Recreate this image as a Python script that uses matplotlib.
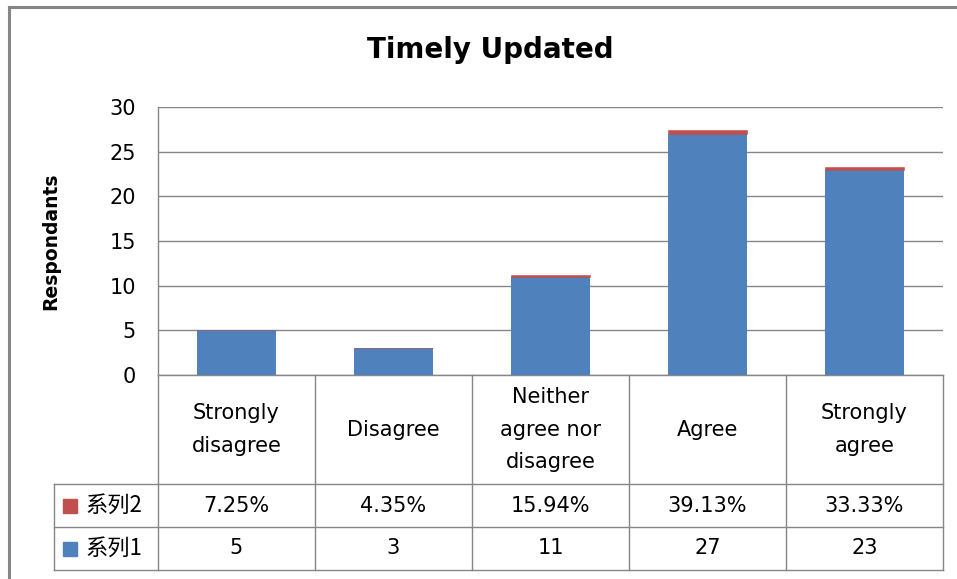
import matplotlib
matplotlib.use("Agg")
import matplotlib.pyplot as plt
from matplotlib.lines import Line2D

categories = ["Strongly\ndisagree", "Disagree", "Neither\nagree nor\ndisagree", "Agree", "Strongly\nagree"]
series1 = [5, 3, 11, 27, 23]                      # respondents
series2 = [7.25, 4.35, 15.94, 39.13, 33.33]       # percent
series1_name = "系列1"
series2_name = "系列2"
yticks = [0, 5, 10, 15, 20, 25, 30]

blue = "#4F81BD"
red = "#C0504D"
grey = "#868686"

W, H = 957, 579
fig = plt.figure(figsize=(W / 100, H / 100), dpi=100)

# plot area in pixels: x 158..943, y 107..375
ax = fig.add_axes([158 / W, 1 - 375 / H, 785 / W, 268 / H])
x = list(range(len(categories)))
ax.bar(x, series1, width=0.5, color=blue, zorder=3)
ax.bar(x, [p / 100 for p in series2], bottom=series1, width=0.5, color=red,
       edgecolor=red, linewidth=0.4, zorder=3)
ax.set_xlim(-0.5, 4.5)
ax.set_ylim(0, 30)
ax.set_yticks(yticks)
ax.set_xticks([])
ax.yaxis.grid(True, color=grey, lw=1)
ax.set_axisbelow(True)
for s in ["top", "right"]:
    ax.spines[s].set_visible(False)
for s in ["left", "bottom"]:
    ax.spines[s].set_color(grey)
    ax.spines[s].set_linewidth(1)
ax.tick_params(axis="y", length=0, pad=16, labelsize=15)
ax.set_ylabel("Respondants", fontsize=13.5, fontweight="bold")
ax.yaxis.set_label_coords((60 - 158) / 785, 0.5)

fig.text(490 / W, 1 - 50 / H, "Timely Updated", fontsize=20, fontweight="bold",
         ha="center", va="center")

# data table below the plot (y in pixels below the x axis)
tab = fig.add_axes([54 / W, 1 - 570 / H, 889 / W, 195 / H])
xleg = -0.5 - 104 / 157
tab.set_xlim(xleg, 4.5)
tab.set_ylim(195, 0)
tab.axis("off")
lk = dict(color=grey, lw=1, clip_on=False)
for yy in [109, 152, 195]:
    tab.plot([xleg, 4.5], [yy, yy], **lk)
for xx in [-0.5, 0.5, 1.5, 2.5, 3.5, 4.5]:
    tab.plot([xx, xx], [0, 195], **lk)
tab.plot([xleg, xleg], [109, 195], **lk)

for i, c in enumerate(categories):
    tab.text(i, 54.5, c, ha="center", va="center", fontsize=15, linespacing=1.78)
    tab.text(i, 130.5, f"{series2[i]:.2f}%", ha="center", va="center", fontsize=15)
    tab.text(i, 173.5, str(series1[i]), ha="center", va="center", fontsize=15)

for yy, name, col in [(130.5, series2_name, red), (173.5, series1_name, blue)]:
    tab.plot([-0.5 - 88 / 157], [yy], marker="s", ms=10, color=col, clip_on=False)
    tab.text(-0.5 - 73 / 157, yy, name, ha="left", va="center", fontsize=16,
             family=["Noto Sans CJK SC", "DejaVu Sans"])

# chart outer border (left and top visible)
fig.add_artist(Line2D([9 / W, 9 / W], [0, 1 - 7 / H], color=grey, lw=2.2))
fig.add_artist(Line2D([9 / W, 1], [1 - 7 / H, 1 - 7 / H], color=grey, lw=2.2))

fig.savefig("out.png", dpi=100)
